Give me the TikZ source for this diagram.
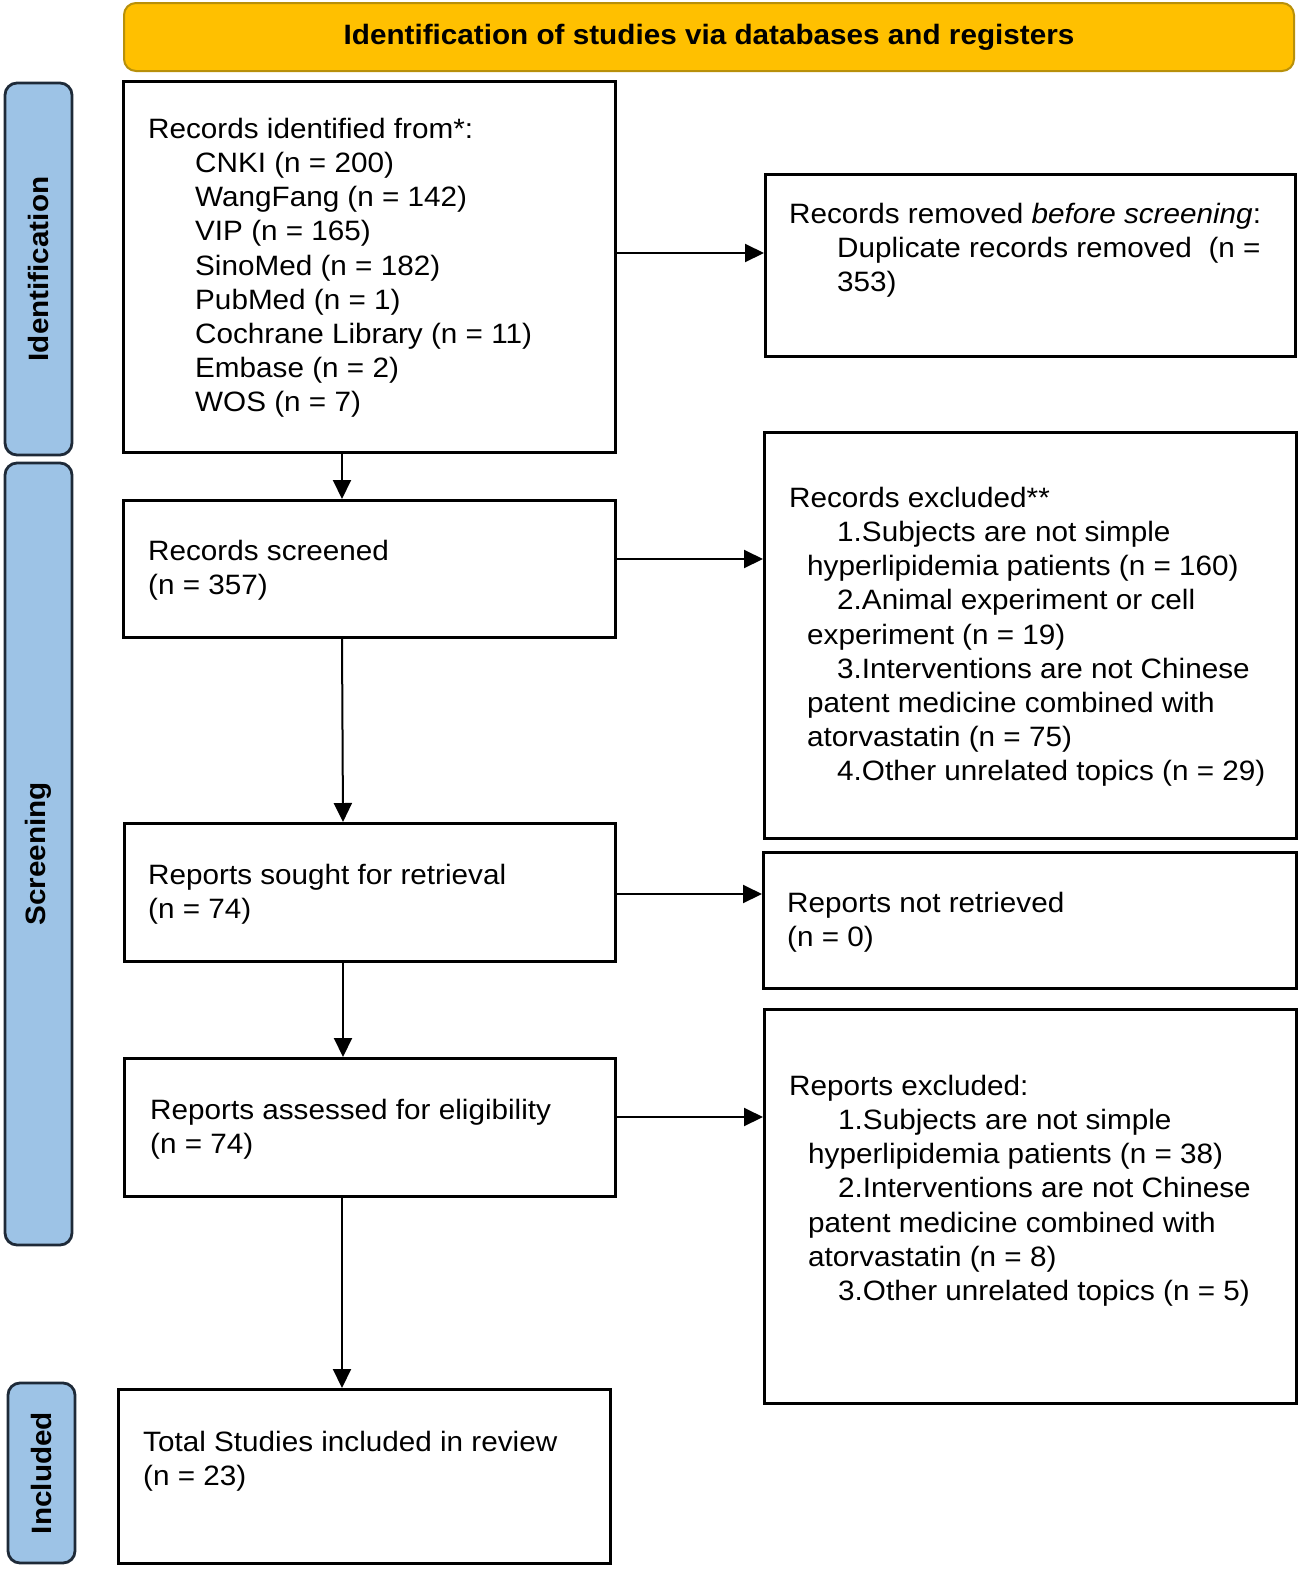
\documentclass[tikz,border=0pt]{standalone}
\usepackage{fontspec}
\setmainfont{Liberation Sans}[FakeStretch=1.06]
\usetikzlibrary{arrows.meta}
\definecolor{hdrfill}{HTML}{FFC000}
\definecolor{hdrdraw}{HTML}{B8900A}
\definecolor{sidefill}{HTML}{9DC3E6}
\definecolor{sidedraw}{HTML}{1E2A38}
\begin{document}
\begin{tikzpicture}[x=1pt,y=-1pt,
  box/.style={draw=black, line width=3pt, fill=white, anchor=north west, inner sep=0pt},
  txt/.style={font=\fontsize{28}{34.2}\selectfont, align=left, inner sep=0pt, anchor=north west},
  hdr/.style={draw=hdrdraw, fill=hdrfill, line width=2pt, rounded corners=12pt, font=\fontsize{28}{34}\selectfont\bfseries, inner sep=0pt},
  side/.style={draw=sidedraw, fill=sidefill, line width=2.8pt, rounded corners=12pt, font=\fontsize{28}{34}\selectfont\bfseries, inner sep=0pt, rotate=90},
  arr/.style={line width=2pt, -{Triangle[length=19pt,width=18pt]}}]
\useasboundingbox (0,0) rectangle (1299,1569);

% header and side labels
\node[hdr, minimum width=1170, minimum height=68] (head) at (709,37) {Identification of studies via databases and registers};
\node[side, minimum width=372, minimum height=67] (sid) at (38.5,269) {Identification};
\node[side, minimum width=782, minimum height=67] (sscr) at (38.5,854) {Screening};
\node[side, minimum width=180, minimum height=67] (sinc) at (41.5,1473) {Included};

% left boxes
\node[box, minimum width=492, minimum height=371] (b1) at (122,80) {};
\node[box, minimum width=492, minimum height=137] (b2) at (122,499) {};
\node[box, minimum width=491, minimum height=138] (b3) at (123,822) {};
\node[box, minimum width=491, minimum height=138] (b4) at (123,1057) {};
\node[box, minimum width=492, minimum height=174] (b5) at (117,1388) {};

% right boxes
\node[box, minimum width=530, minimum height=182] (r1) at (764,173) {};
\node[box, minimum width=532, minimum height=406] (r2) at (763,431) {};
\node[box, minimum width=533, minimum height=136] (r3) at (762,851) {};
\node[box, minimum width=532, minimum height=394] (r4) at (763,1008) {};

% texts
\node[txt] (t1) at (148,108) {\rule{0pt}{30pt}Records identified from*:\\
\hspace*{47pt}CNKI (n = 200)\\
\hspace*{47pt}WangFang (n = 142)\\
\hspace*{47pt}VIP (n = 165)\\
\hspace*{47pt}SinoMed (n = 182)\\
\hspace*{47pt}PubMed (n = 1)\\
\hspace*{47pt}Cochrane Library (n = 11)\\
\hspace*{47pt}Embase (n = 2)\\
\hspace*{47pt}WOS (n = 7)};

\node[txt] (t2) at (148,530) {\rule{0pt}{30pt}Records screened\\(n = 357)};
\node[txt] (t3) at (148,854) {\rule{0pt}{30pt}Reports sought for retrieval\\(n = 74)};
\node[txt] (t4) at (150,1089) {\rule{0pt}{30pt}Reports assessed for eligibility\\(n = 74)};
\node[txt] (t5) at (143,1421) {\rule{0pt}{30pt}Total Studies included in review\\(n = 23)};

\node[txt] (tr1) at (789,193) {\rule{0pt}{30pt}Records removed \textit{before screening}:\\
\hspace*{48pt}Duplicate records removed\hspace{0.6em}(n =\\
\hspace*{48pt}353)};

\node[txt] (tr2) at (789,477) {\rule{0pt}{30pt}Records excluded**\\
\hspace*{48pt}1.Subjects are not simple\\
\hspace*{18pt}hyperlipidemia patients (n = 160)\\
\hspace*{48pt}2.Animal experiment or cell\\
\hspace*{18pt}experiment (n = 19)\\
\hspace*{48pt}3.Interventions are not Chinese\\
\hspace*{18pt}patent medicine combined with\\
\hspace*{18pt}atorvastatin (n = 75)\\
\hspace*{48pt}4.Other unrelated topics (n = 29)};

\node[txt] (tr3) at (787,882) {\rule{0pt}{30pt}Reports not retrieved\\(n = 0)};

\node[txt] (tr4) at (789,1065) {\rule{0pt}{30pt}Reports excluded:\\
\hspace*{49pt}1.Subjects are not simple\\
\hspace*{19pt}hyperlipidemia patients (n = 38)\\
\hspace*{49pt}2.Interventions are not Chinese\\
\hspace*{19pt}patent medicine combined with\\
\hspace*{19pt}atorvastatin (n = 8)\\
\hspace*{49pt}3.Other unrelated topics (n = 5)};

% connector levels
\coordinate (v1) at (342,0);
\coordinate (v2) at (343,0);
\coordinate (h1) at (0,253);
\coordinate (h2) at (0,559);
\coordinate (h3) at (0,894);
\coordinate (h4) at (0,1117);

% vertical arrows
\draw[arr] (b1.south -| v1) -- (b2.north -| v1);
\draw[arr] (b2.south -| v1) -- (b3.north -| v2);
\draw[arr] (b3.south -| v2) -- (b4.north -| v2);
\draw[arr] (b4.south -| v1) -- (b5.north -| v1);

% horizontal arrows
\draw[arr] (b1.east |- h1) -- (r1.west |- h1);
\draw[arr] (b2.east |- h2) -- (r2.west |- h2);
\draw[arr] (b3.east |- h3) -- (r3.west |- h3);
\draw[arr] (b4.east |- h4) -- (r4.west |- h4);
\end{tikzpicture}
\end{document}
